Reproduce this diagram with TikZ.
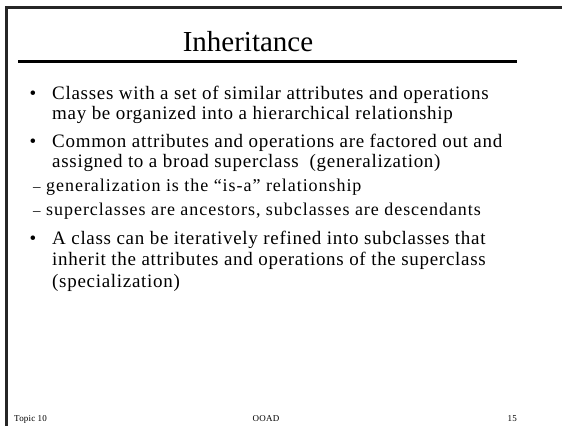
\documentclass[tikz,border=0pt]{standalone}
\usepackage{fontspec}
\setmainfont{Liberation Serif}
\newfontfamily\bodyfont[LetterSpace=3.7]{Liberation Serif}
\newfontfamily\subfont[LetterSpace=5.3]{Liberation Serif}
\newfontfamily\footfont[LetterSpace=2.0]{Liberation Serif}
\begin{document}
\begin{tikzpicture}[x=1bp,y=-1bp,
  titletext/.style={inner sep=0pt,anchor=base,font=\fontsize{29bp}{29bp}\selectfont},
  bodytext/.style={inner sep=0pt,anchor=base west,font=\bodyfont\fontsize{19bp}{19bp}\selectfont},
  bulletmark/.style={inner sep=0pt,anchor=base,font=\fontsize{19bp}{19bp}\selectfont},
  subtext/.style={inner sep=0pt,anchor=base west,font=\subfont\fontsize{18bp}{18bp}\selectfont},
  dashmark/.style={inner sep=0pt,anchor=base west,font=\fontsize{15bp}{15bp}\selectfont},
  foottext/.style={inner sep=0pt,anchor=base,font=\footfont\fontsize{9bp}{9bp}\selectfont},
  frameline/.style={line width=2.8bp,draw=black!85},
  titlerule/.style={line width=3.6bp,draw=black}]
  \useasboundingbox[fill=white] (0,0) rectangle (562,426);

  % slide frame: top and left edges
  \coordinate (ftl) at (6.5,7.5);
  \coordinate (ftr) at (562,7.5);
  \coordinate (fbl) at (6.5,426);
  \draw[frameline] (ftr) -- (ftl) -- (fbl);

  % title and its rule
  \node[titletext] (title) at (248,51) {Inheritance};
  \coordinate (rl) at (18,61.3);
  \coordinate (rr) at (517,61.3);
  \draw[titlerule] (rl) -- (rr);

  % first bullet
  \node[bulletmark] (b1) at (33,99) {•};
  \node[bodytext] (l1) at (52,99) {Classes with a set of similar attributes and operations};
  \node[bodytext] (l2) at (52,119) {may be organized into a hierarchical relationship};

  % second bullet
  \node[bulletmark] (b2) at (33,147) {•};
  \node[bodytext] (l3) at (52,147) {Common attributes and operations are factored out and};
  \node[bodytext] (l4) at (52,167) {assigned to a broad superclass\ \ (generalization)};

  % sub-points
  \node[dashmark] (d1) at (33,191) {–};
  \node[subtext] (s1) at (46,191) {generalization is the “is-a” relationship};
  \node[dashmark] (d2) at (33,215) {–};
  \node[subtext] (s2) at (46,215) {superclasses are ancestors, subclasses are descendants};

  % third bullet
  \node[bulletmark] (b3) at (33,244) {•};
  \node[bodytext] (l5) at (52,244) {A class can be iteratively refined into subclasses that};
  \node[bodytext] (l6) at (52,265) {inherit the attributes and operations of the superclass};
  \node[bodytext] (l7) at (52,287) {(specialization)};

  % footer
  \node[foottext,anchor=base west] (fl) at (14,421) {Topic 10};
  \node[foottext] (fc) at (266,421) {OOAD};
  \node[foottext,anchor=base east] (fr) at (517,421) {15};
\end{tikzpicture}
\end{document}
